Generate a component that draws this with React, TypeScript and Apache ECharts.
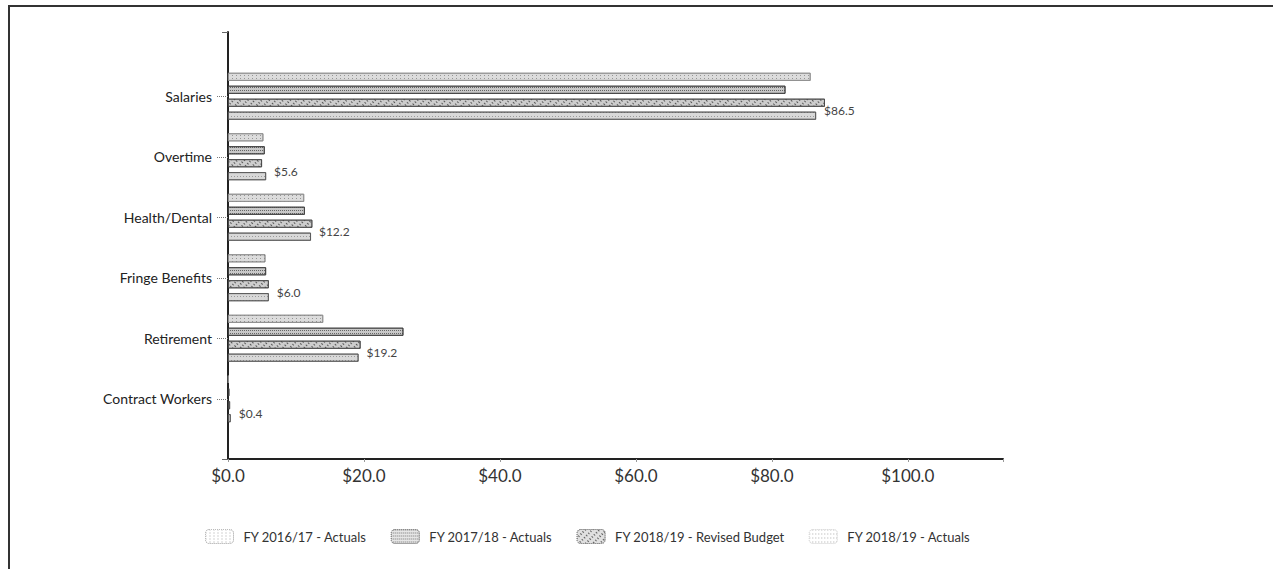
import React, { useEffect, useRef } from "react";
import * as echarts from "echarts";

const categories = ["Salaries", "Overtime", "Health/Dental", "Fringe Benefits", "Retirement", "Contract Workers"];
const seriesNames = ["FY 2016/17 - Actuals", "FY 2017/18 - Actuals", "FY 2018/19 - Revised Budget", "FY 2018/19 - Actuals"];
const fy1617Actuals = [85.7, 5.2, 11.2, 5.5, 14.0, 0.1];
const fy1718Actuals = [82.0, 5.4, 11.3, 5.6, 25.8, 0.2];
const fy1819Budget = [87.8, 5.0, 12.4, 6.0, 19.5, 0.3];
const fy1819Actuals = [86.5, 5.6, 12.2, 6.0, 19.2, 0.4];
const xTicks = [0, 20, 40, 60, 80, 100];

const FONT = "Lato, 'Open Sans', sans-serif";

export default function App() {
  const ref = useRef<HTMLDivElement>(null);
  useEffect(() => {
    if (!ref.current) return;
    const chart = echarts.init(ref.current, null, { renderer: "svg" });
    const decals: any[] = [
      { symbol: "rect", symbolSize: 1, color: "rgba(90,90,90,0.55)", dashArrayX: [1, 3], dashArrayY: [1, 2], rotation: 0 },
      { symbol: "rect", symbolSize: 1, color: "rgba(60,60,60,0.7)", dashArrayX: [1, 1], dashArrayY: [1, 2], rotation: 0 },
      { symbol: "rect", symbolSize: 1, color: "rgba(40,40,40,0.7)", dashArrayX: [[2, 3]], dashArrayY: [1, 2], rotation: Math.PI / 4 },
      { symbol: "rect", symbolSize: 1, color: "rgba(90,90,90,0.5)", dashArrayX: [1, 2], dashArrayY: [1, 3], rotation: 0 },
    ];
    const fills = ["#dcdcdc", "#c8c8c8", "#cdcdcd", "#d8d8d8"];
    const borders = ["#8a8a8a", "#3a3a3a", "#444444", "#555555"];
    const legendFills = ["#ffffff", "#e6e6e6", "#e0e0e0", "#ffffff"];
    const legendBorders = ["#bbbbbb", "#888888", "#888888", "#dddddd"];
    const datas = [fy1617Actuals, fy1718Actuals, fy1819Budget, fy1819Actuals];
    const series: any[] = datas.map((d, i) => ({
      name: seriesNames[i],
      type: "bar",
      xAxisIndex: 1,
      yAxisIndex: 1,
      data: d,
      barWidth: 8,
      barGap: "62%",
      itemStyle: { color: fills[i], decal: decals[i], borderColor: borders[i], borderWidth: 0.8 },
      label:
        i === 3
          ? {
              show: true,
              position: "right",
              distance: 8,
              offset: [0, -5],
              formatter: (p: any) => "$" + Number(p.value).toFixed(1),
              color: "#444",
              fontFamily: FONT,
              fontSize: 12,
            }
          : { show: false },
    }));

    chart.setOption({
      animation: false,
      backgroundColor: "#ffffff",
      grid: [
        { left: 228, top: 32, width: 775, height: 427, containLabel: false },
        { left: 228, top: 66, width: 775, height: 363, containLabel: false },
      ],
      xAxis: [
        {
          gridIndex: 0,
          type: "value",
          min: 0,
          max: 114,
          interval: 20,
          axisLine: { show: true, lineStyle: { color: "#222", width: 2 } },
          axisTick: { show: true, length: 3, lineStyle: { color: "#999", width: 1 } },
          splitLine: { show: false },
          axisLabel: {
            margin: 8,
            color: "#333",
            fontFamily: FONT,
            fontSize: 17,
            formatter: (v: number) => (xTicks.indexOf(v) >= 0 ? "$" + v.toFixed(1) : ""),
          },
        },
        { gridIndex: 1, type: "value", min: 0, max: 114, show: false },
      ],
      yAxis: [
        {
          gridIndex: 0,
          type: "value",
          min: 0,
          max: 1,
          interval: 1,
          axisLine: { show: true, lineStyle: { color: "#222", width: 2 } },
          axisTick: { show: true, length: 6, lineStyle: { color: "#666", width: 1 } },
          axisLabel: { show: false },
          splitLine: { show: false },
        },
        {
          gridIndex: 1,
          type: "category",
          data: categories,
          inverse: true,
          axisLine: { show: false },
          axisTick: { show: true, alignWithLabel: true, length: 12, lineStyle: { color: "#777", width: 1, type: "dotted" } },
          axisLabel: { margin: 16, color: "#222", fontFamily: FONT, fontSize: 14 },
          splitLine: { show: false },
        },
      ],
      legend: {
        data: seriesNames.map((n, i) => ({
          name: n,
          itemStyle: { color: legendFills[i], borderColor: legendBorders[i], borderWidth: 1, borderType: "dotted", decal: decals[i] },
        })),
        left: 200,
        top: 524,
        itemWidth: 28,
        itemHeight: 14,
        itemGap: 24,
        textStyle: { color: "#333", fontFamily: FONT, fontSize: 13, padding: [0, 0, 0, 5] },
      },
      graphic: [
        { type: "line", shape: { x1: 8, y1: 6, x2: 1273, y2: 6 }, style: { stroke: "#333", lineWidth: 2 } },
        { type: "line", shape: { x1: 9, y1: 5, x2: 9, y2: 569 }, style: { stroke: "#333", lineWidth: 2 } },
      ],
      series,
    });
    return () => chart.dispose();
  }, []);
  return (
    <div
      ref={ref}
      style={{ position: "fixed", left: 0, top: 0, width: 1273, height: 569, background: "#fff" }}
    />
  );
}
